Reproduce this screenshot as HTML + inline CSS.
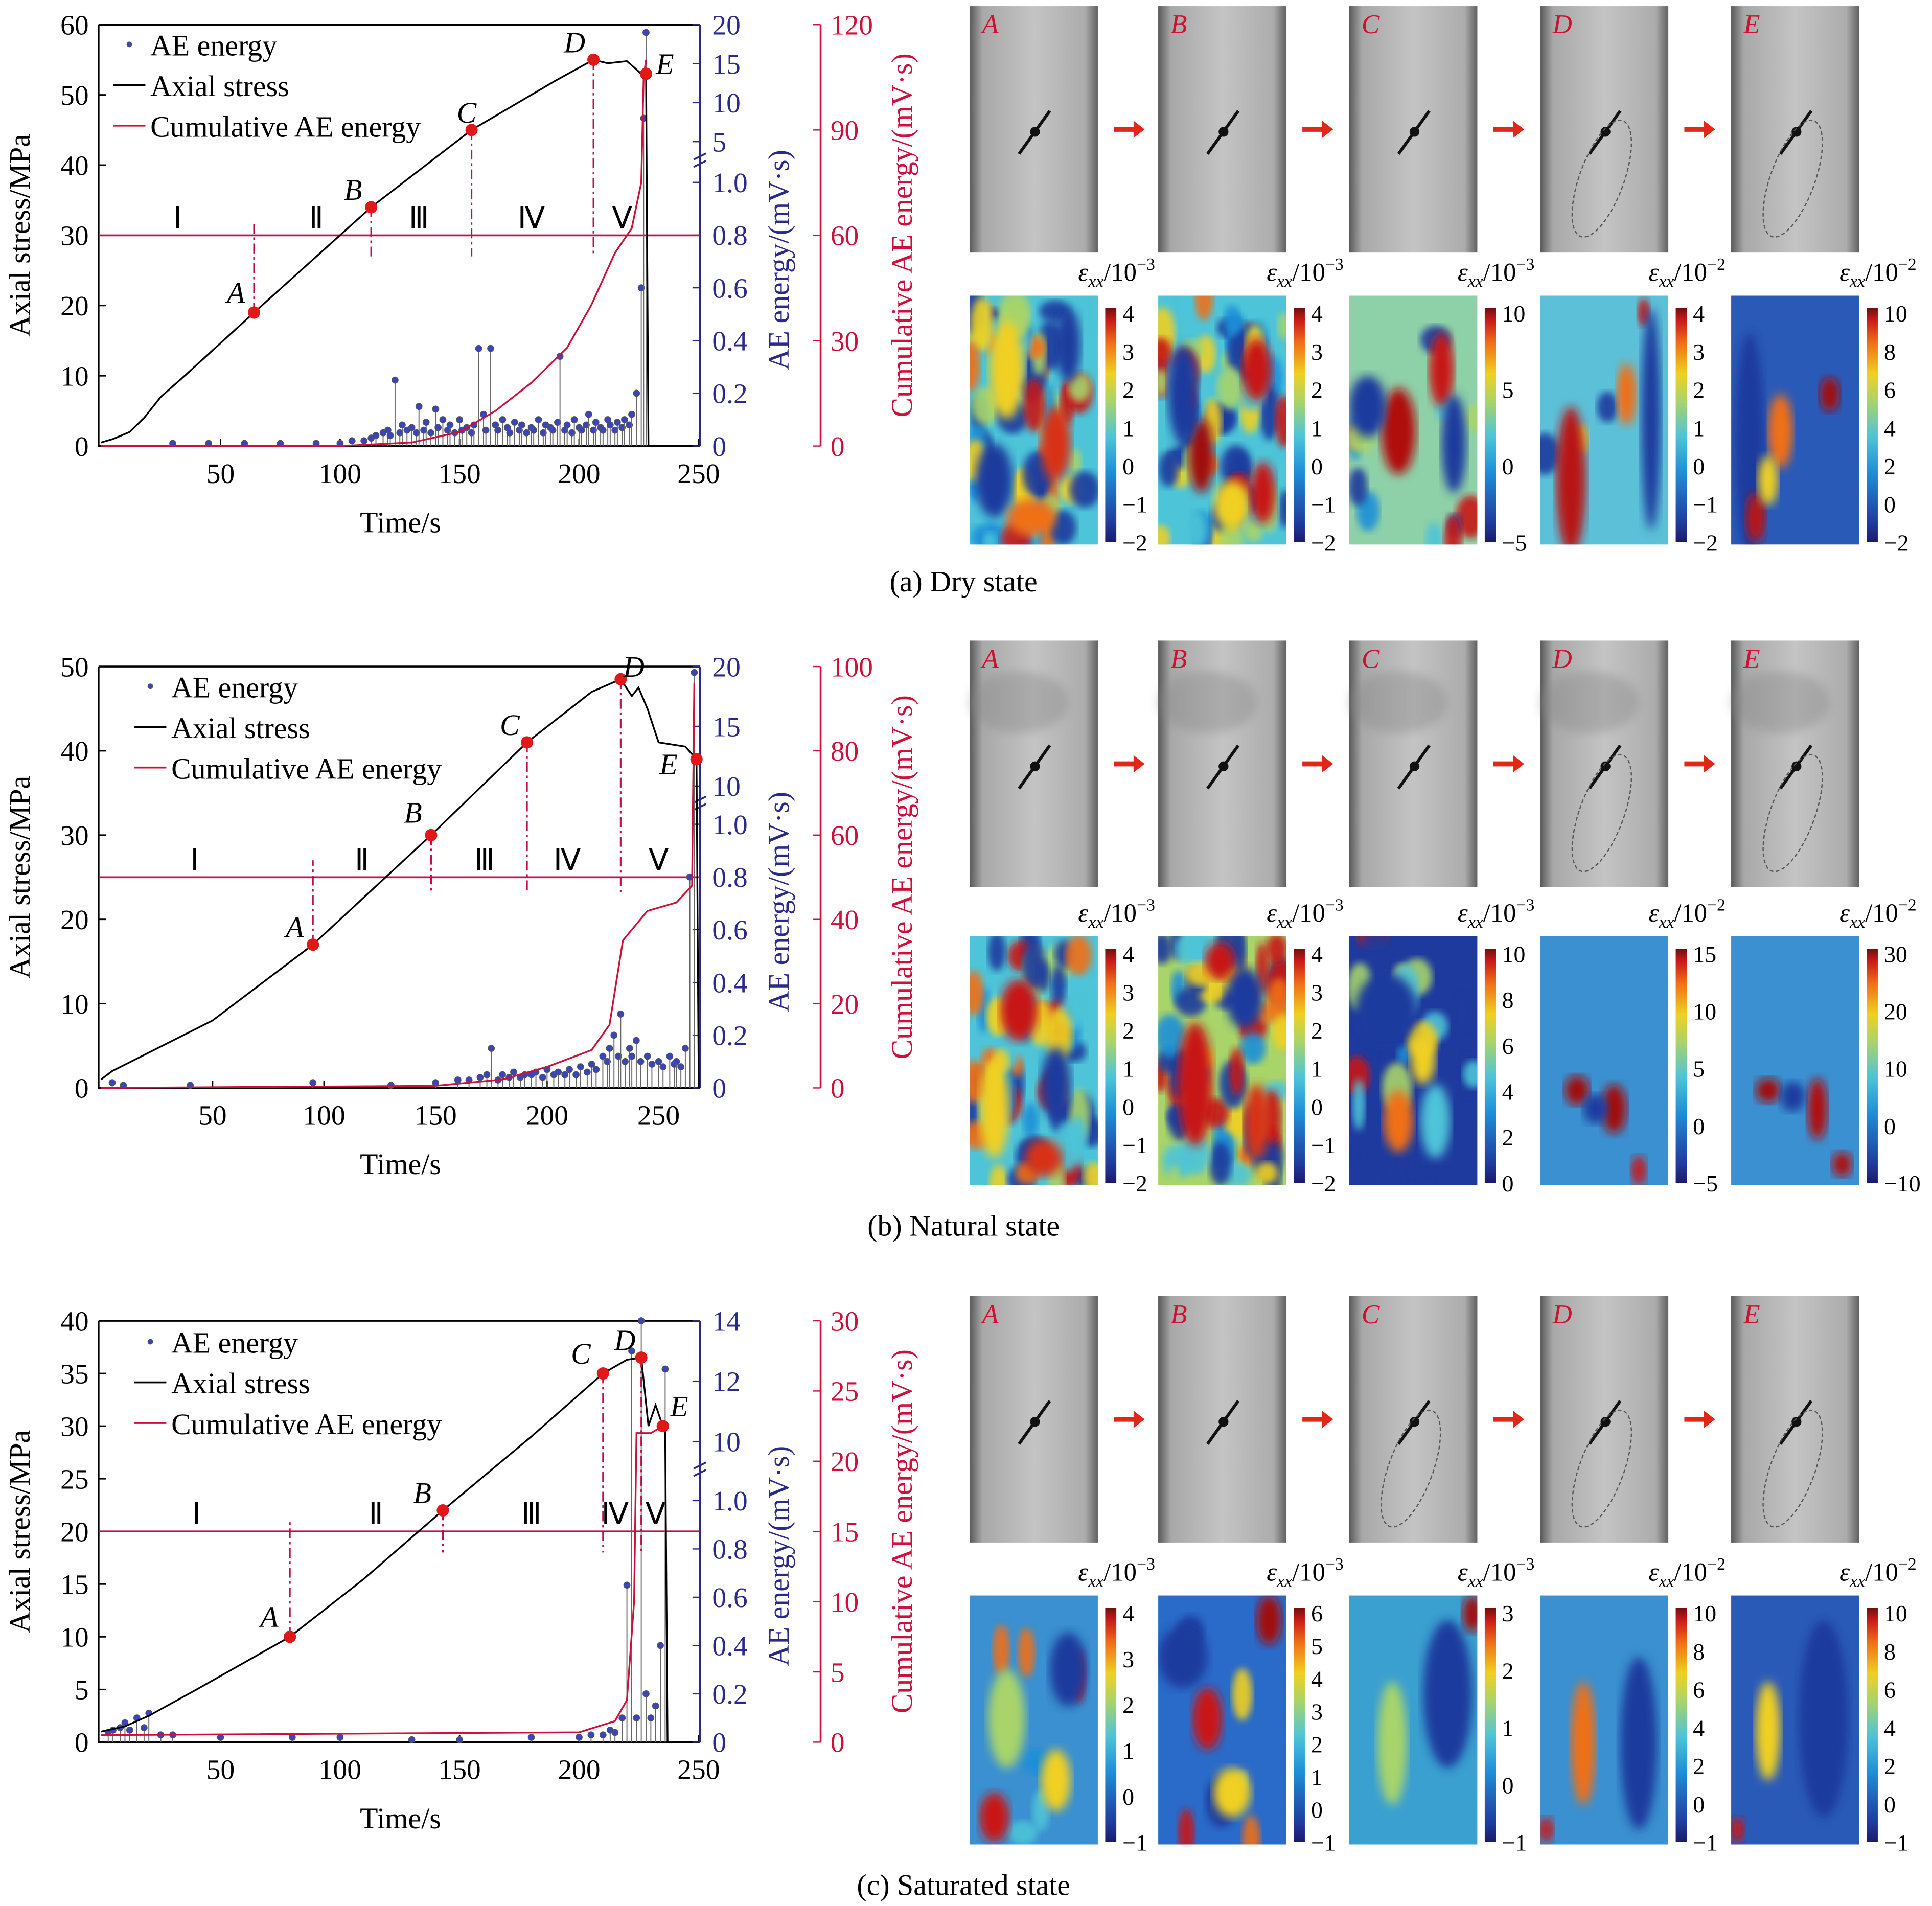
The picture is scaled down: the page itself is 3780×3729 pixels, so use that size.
<!DOCTYPE html>
<html><head><meta charset="utf-8">
<style>
html,body{margin:0;padding:0;background:#fff;}
svg{display:block;}
text{font-family:"Liberation Serif",serif;}
</style></head>
<body>
<svg id="fig" xmlns="http://www.w3.org/2000/svg" width="3780" height="3729" viewBox="0 0 1568 1547" preserveAspectRatio="none">
<defs>
<linearGradient id="jet" x1="0" y1="1" x2="0" y2="0">
<stop offset="0" stop-color="#1a1a6e"/><stop offset="0.08" stop-color="#1f3a9e"/><stop offset="0.3" stop-color="#1e8fd8"/><stop offset="0.45" stop-color="#4dc4d8"/><stop offset="0.6" stop-color="#a8d46a"/><stop offset="0.72" stop-color="#f0d020"/><stop offset="0.85" stop-color="#f07018"/><stop offset="0.95" stop-color="#c81818"/><stop offset="1" stop-color="#6e1010"/>
</linearGradient>
<linearGradient id="photo" x1="0" y1="0" x2="1" y2="0">
<stop offset="0" stop-color="#5a5a5a"/><stop offset="0.1" stop-color="#a8a8a8"/><stop offset="0.5" stop-color="#c4c4c4"/><stop offset="0.9" stop-color="#acacac"/><stop offset="1" stop-color="#606060"/>
</linearGradient>
<filter id="blur4"><feGaussianBlur stdDeviation="4"/></filter>
<filter id="blur3"><feGaussianBlur stdDeviation="3"/></filter>
</defs>
<g id="charts"></g>
<g id="images"></g>
</svg>
<script>
// ---------- Panel (a) data ----------
const aStressT=[0,5,12,18,25,35,64,113,155,190,206,212,220,226,228,229];
const aStressV=[0.5,1,2,4,7,10,19,34,45,52,55,54.5,54.8,53,53,0];
const aCumT=[0,100,130,150,165,180,195,205,215,222,226,227,228];
const aCumV=[0,0,1,4,10,18,28,40,55,62,75,105,110];
const aAeT=[30,45,60,75,90,100,105,110,113,115,118,120,121,123,125,126,128,130,132,133,135,136,138,140,141,143,145,146,148,150,151,153,155,156,158,160,161,163,165,166,168,170,171,173,175,176,178,180,181,183,185,186,188,189,191,192,194,195,197,198,200,201,203,204,206,207,209,210,212,213,215,216,218,219,221,222,224,226,227,228];
const aAeV=[0.01,0.01,0.01,0.01,0.01,0.01,0.02,0.02,0.03,0.04,0.05,0.06,0.04,0.25,0.05,0.08,0.06,0.07,0.05,0.15,0.06,0.09,0.05,0.14,0.07,0.1,0.06,0.08,0.05,0.1,0.06,0.07,0.05,0.08,0.37,0.12,0.06,0.37,0.08,0.06,0.1,0.07,0.05,0.09,0.06,0.08,0.05,0.07,0.06,0.1,0.05,0.08,0.07,0.06,0.09,0.34,0.06,0.08,0.05,0.1,0.07,0.06,0.08,0.12,0.06,0.09,0.07,0.06,0.1,0.08,0.06,0.09,0.07,0.1,0.08,0.12,0.2,0.6,8,19];
const aPtT=[64,113,155,206,228];
const aPtV=[19,34,45,55,53];
const aStageT=[32,90,133,180,218];
// ---------- Panel (b) data ----------
const bStressT=[0,5,20,50,95,148,191,220,233,238,241,245,250,262,267,268];
const bStressV=[1,2,4,8,17,30,41,47,48.5,46.5,47.5,45,41,40.5,39,0];
const bCumT=[0,150,180,200,220,228,231,234,245,258,265,266];
const bCumV=[0,0.5,2,5,9,15,25,35,42,44,48,96];
const bAeT=[5,10,40,95,130,150,160,165,170,173,175,178,180,183,185,188,190,193,195,198,200,203,205,208,210,213,215,218,220,222,225,227,228,230,232,233,235,237,238,240,242,245,247,250,252,255,257,258,260,262,264,266];
const bAeV=[0.02,0.01,0.01,0.02,0.01,0.02,0.03,0.03,0.04,0.05,0.15,0.03,0.05,0.04,0.06,0.04,0.05,0.05,0.06,0.04,0.07,0.05,0.06,0.05,0.07,0.05,0.08,0.06,0.09,0.07,0.12,0.1,0.15,0.2,0.12,0.28,0.1,0.15,0.12,0.18,0.1,0.12,0.09,0.1,0.08,0.12,0.09,0.1,0.08,0.15,0.8,19.5];
const bPtT=[95,148,191,233,267];
const bPtV=[17,30,41,48.5,39];
const bStageT=[42,117,172,209,250];
// ---------- Panel (c) data ----------
const cStressT=[0,10,20,40,79,110,143,180,210,220,226,229,232,235,236,237];
const cStressV=[1,1.5,2.5,5,10,15.5,22,29,35,36.3,36.5,30,32,30,30,0];
const cCumT=[0,200,215,220,223,224,230,235];
const cCumV=[0.5,0.7,1.5,3,10,22,22,22.5];
const cAeT=[3,5,8,10,12,15,18,20,25,30,50,80,100,130,150,180,200,205,210,213,215,218,220,222,224,226,228,230,232,234,236];
const cAeV=[0.04,0.05,0.06,0.08,0.05,0.1,0.06,0.12,0.03,0.03,0.02,0.02,0.02,0.01,0.01,0.02,0.02,0.03,0.03,0.05,0.04,0.1,0.65,13,0.1,14,0.2,0.1,0.15,0.4,12.4];
const cPtT=[79,143,210,226,235];
const cPtV=[10,22,35,36.5,30];
const cStageT=[40,115,180,215,232];

const ptLetters=['A','B','C','D','E'];
const stageLabels=['Ⅰ','Ⅱ','Ⅲ','Ⅳ','Ⅴ'];
const NS='http://www.w3.org/2000/svg';
function mk(tag,attrs,parent,txt){const e=document.createElementNS(NS,tag);for(const k in attrs)e.setAttribute(k,attrs[k]);if(txt!==undefined)e.textContent=txt;parent.appendChild(e);return e;}

const panels=[
 {id:'a',T:aStressT,V:aStressV,cT:aCumT,cV:aCumV,eT:aAeT,eV:aAeV,pT:aPtT,pV:aPtV,sT:aStageT,
  x0:82,xs:1.94,yBot:362,yTop:20,sMax:60,sStep:10,line:30,
  yOne:148,upLo:5,upLoY:115,upHi:20,upHiY:20,upTicks:[5,10,15,20],
  cMax:120,cStep:30,legY:39,legX:122,xTicks:[50,100,150,200,250],
  ptOff:[[-22,-8],[-22,-6],[-12,-6],[-24,-6],[8,0]],vlo:[32,27,27,27,null]},
 {id:'b',T:bStressT,V:bStressV,cT:bCumT,cV:bCumV,eT:bAeT,eV:bAeV,pT:bPtT,pV:bPtV,sT:bStageT,
  x0:82,xs:1.81,yBot:883,yTop:541,sMax:50,sStep:10,line:25,
  yOne:669,upLo:10,upLoY:638,upHi:20,upHiY:541,upTicks:[10,15,20],
  cMax:100,cStep:20,legY:560,legX:139,xTicks:[50,100,150,200,250],
  ptOff:[[-22,-6],[-22,-10],[-22,-6],[2,-2],[-30,12]],vlo:[27,23,23,23,null]},
 {id:'c',T:cStressT,V:cStressV,cT:cCumT,cV:cCumV,eT:cAeT,eV:cAeV,pT:cPtT,pV:cPtV,sT:cStageT,
  x0:82,xs:1.94,yBot:1414,yTop:1072,sMax:40,sStep:5,line:20,
  yOne:1218,upLo:10,upLoY:1170,upHi:14,upHiY:1072,upTicks:[10,12,14],
  cMax:30,cStep:5,legY:1092,legX:139,xTicks:[50,100,150,200,250],
  ptOff:[[-24,-8],[-24,-6],[-26,-8],[-22,-6],[6,-8]],vlo:[21,18,18,18,null]}
];
const charts=document.getElementById('charts');
panels.forEach(p=>{
 const g=mk('g',{},charts);
 
 
 const X=t=>p.x0+t*p.xs;
 const Y=v=>p.yBot-v*(p.yBot-p.yTop)/p.sMax;
 const YE=v=>v<=1?p.yBot-v*(p.yBot-p.yOne):p.upLoY-(v-p.upLo)*(p.upLoY-p.upHiY)/(p.upHi-p.upLo);
 const YC=v=>p.yBot-v*(p.yBot-p.yTop)/p.cMax;
 const L=80,R=568;
 const fr=mk('path',{d:`M${L},${p.yTop}H${R}M${L},${p.yTop}V${p.yBot}H${R}`,stroke:'#000','stroke-width':1.5,fill:'none'},g);
 
 for(let v=0;v<=p.sMax;v+=p.sStep){
  mk('line',{x1:L,x2:L+6,y1:Y(v),y2:Y(v),stroke:'#000','stroke-width':1.2},g);
  const t=mk('text',{x:L-8,y:Y(v)+8,'text-anchor':'end','font-size':23},g,String(v));
  
 }
 p.xTicks.forEach(v=>{
  mk('line',{x1:X(v),x2:X(v),y1:p.yBot,y2:p.yBot-6,stroke:'#000','stroke-width':1.2},g);
  const t=mk('text',{x:X(v),y:p.yBot+30,'text-anchor':'middle','font-size':23},g,String(v));
  
 });
 const xt=mk('text',{x:325,y:p.yBot+70,'text-anchor':'middle','font-size':24},g,'Time/s');
 
 const yt=mk('text',{x:0,y:0,'text-anchor':'middle','font-size':24,transform:`translate(24,${(p.yTop+p.yBot)/2}) rotate(-90)`},g,'Axial stress/MPa');
 
 const blue='#2a2a8c';
 mk('line',{x1:R,x2:R,y1:p.yTop,y2:p.yBot,stroke:blue,'stroke-width':1.5},g);
 [0,0.2,0.4,0.6,0.8,1.0].forEach(v=>{
  mk('line',{x1:R,x2:R-6,y1:YE(v),y2:YE(v),stroke:blue},g);
  const t=mk('text',{x:R+10,y:YE(v)+8,'font-size':23,fill:blue},g,v===0?'0':v.toFixed(1));
  
 });
 p.upTicks.forEach(v=>{
  mk('line',{x1:R,x2:R-6,y1:YE(v),y2:YE(v),stroke:blue},g);
  const t=mk('text',{x:R+10,y:YE(v)+8,'font-size':23,fill:blue},g,String(v));
  
 });
 const by=(p.yOne+p.upLoY)/2;
 mk('path',{d:`M${R-5},${by-2}l10,-5M${R-5},${by+4}l10,-5`,stroke:blue,'stroke-width':1.5},g);
 const at=mk('text',{x:0,y:0,'text-anchor':'middle','font-size':24,fill:blue,transform:`translate(640,${(p.yTop+p.yBot)/2+20}) rotate(-90)`},g,'AE energy/(mV·s)');
 
 const red='#d0103a';
 mk('line',{x1:666,x2:666,y1:p.yTop,y2:p.yBot,stroke:red,'stroke-width':1.5},g);
 for(let v=0;v<=p.cMax;v+=p.cStep){
  mk('line',{x1:666,x2:660,y1:YC(v),y2:YC(v),stroke:red},g);
  const t=mk('text',{x:674,y:YC(v)+8,'font-size':23,fill:red},g,String(v));
  
 }
 const ct=mk('text',{x:0,y:0,'text-anchor':'middle','font-size':24,fill:red,transform:`translate(740,${(p.yTop+p.yBot)/2}) rotate(-90)`},g,'Cumulative AE energy/(mV·s)');
 
 mk('line',{x1:L,x2:R,y1:Y(p.line),y2:Y(p.line),stroke:'#c0104a','stroke-width':1.5},g);
 p.sT.forEach((t,i)=>{
  const s=mk('text',{x:X(t),y:Y(p.line)-6,'text-anchor':'middle','font-size':24},g,stageLabels[i]);
  
 });
 p.eT.forEach((t,i)=>{
  const st=mk('line',{x1:X(t),x2:X(t),y1:p.yBot,y2:YE(p.eV[i]),stroke:'#666','stroke-width':0.8},g);
  
  const c=mk('circle',{cx:X(t),cy:YE(p.eV[i]),r:2.6,fill:'#3a46b8',stroke:'#555','stroke-width':0.5},g);
  
 });
 const cl=mk('polyline',{points:p.cT.map((t,i)=>X(t)+','+YC(p.cV[i])).join(' '),fill:'none',stroke:red,'stroke-width':1.4},g);
 
 const sl=mk('polyline',{points:p.T.map((t,i)=>X(t)+','+Y(p.V[i])).join(' '),fill:'none',stroke:'#000','stroke-width':1.4},g);
 
 p.pT.forEach((t,i)=>{
  if(p.vlo[i]!==null){
   mk('line',{x1:X(t),x2:X(t),y1:Y(p.pV[i]),y2:Y(p.vlo[i]),stroke:'#c0104a','stroke-width':1.3,'stroke-dasharray':'8,3,2,3'},g);
  }
  const c=mk('circle',{cx:X(t),cy:Y(p.pV[i]),r:5,fill:'#e01818'},g);
  
  const lt=mk('text',{x:X(t)+p.ptOff[i][0],y:Y(p.pV[i])+p.ptOff[i][1],'font-size':24,'font-style':'italic'},g,ptLetters[i]);
  
 });
 const lg=mk('g',{},g);
 
 const lx=p.legX;
 mk('circle',{cx:lx-17,cy:p.legY-3,r:2,fill:'#3a46b8',stroke:'#555','stroke-width':0.5},lg);
 mk('text',{x:lx,y:p.legY+6,'font-size':24},lg,'AE energy');
 mk('line',{x1:lx-30,x2:lx-4,y1:p.legY+30,y2:p.legY+30,stroke:'#000','stroke-width':1.5},lg);
 mk('text',{x:lx,y:p.legY+39,'font-size':24},lg,'Axial stress');
 mk('line',{x1:lx-30,x2:lx-4,y1:p.legY+63,y2:p.legY+63,stroke:red,'stroke-width':1.5},lg);
 mk('text',{x:lx,y:p.legY+72,'font-size':24},lg,'Cumulative AE energy');
});

// ---------- right-side images ----------
const colX=[787,940,1095,1250,1405];
const rows=[
 {pY:5,hY:240,cap:'(a) Dry state',capY:480,
  exps:['−3','−3','−3','−2','−2'],
  ticks:[['4','3','2','1','0','−1','−2'],['4','3','2','1','0','−1','−2'],['10','5','0','−5'],['4','3','2','1','0','−1','−2'],['10','8','6','4','2','0','−2']]},
 {pY:520,hY:760,cap:'(b) Natural state',capY:1003,
  exps:['−3','−3','−3','−2','−2'],
  ticks:[['4','3','2','1','0','−1','−2'],['4','3','2','1','0','−1','−2'],['10','8','6','4','2','0'],['15','10','5','0','−5'],['30','20','10','0','−10']]},
 {pY:1052,hY:1295,cap:'(c) Saturated state',capY:1538,
  exps:['−3','−3','−3','−2','−2'],
  ticks:[['4','3','2','1','0','−1'],['6','5','4','3','2','1','0','−1'],['3','2','1','0','−1'],['10','8','6','4','2','0','−1'],['10','8','6','4','2','0','−1']]}
];
const blobs=[
 [[[30,60,14,40,'#f0d020'],[70,120,12,30,'#d83018'],[20,150,15,30,'#1f3a9e'],[80,40,10,30,'#1f3a9e'],[50,180,20,15,'#f07018']],
  [[35,130,10,30,'#a01010'],[80,60,12,25,'#c81818'],[20,80,12,40,'#1f3a9e'],[60,170,15,20,'#f0d020'],[85,160,10,25,'#c81818']],
  [[40,110,14,35,'#b01010'],[75,60,10,30,'#c81818'],[15,90,15,25,'#1f3a9e'],[85,120,10,40,'#1f3a9e']],
  [[25,150,12,60,'#b81818'],[70,80,8,25,'#f07018'],[90,100,8,90,'#1f3a9e']],
  [[40,110,10,30,'#f07018'],[80,80,8,14,'#a01010'],[15,120,12,90,'#1f3a9e'],[20,180,8,20,'#b81818'],[30,150,8,20,'#f0d020']]],
 [[[40,60,15,25,'#c81818'],[20,140,12,40,'#f0d020'],[70,120,12,30,'#1f3a9e'],[60,180,15,15,'#d83018']],
  [[30,120,14,50,'#c81818'],[70,50,15,25,'#1f3a9e'],[80,150,10,30,'#d83018'],[50,20,12,15,'#c81818']],
  [[40,150,12,25,'#f07018'],[60,100,10,20,'#f0d020'],[30,60,25,30,'#1f3a9e'],[70,150,12,30,'#4dc4d8']],
  [[30,125,10,12,'#a01010'],[60,140,10,20,'#a01010'],[45,140,10,12,'#1f3a9e'],[80,190,6,12,'#c81818']],
  [[30,125,10,10,'#a01010'],[70,140,8,25,'#b01010'],[90,185,8,10,'#b01010'],[50,130,10,12,'#1f3a9e']]],
 [[[30,100,15,40,'#a8d46a'],[80,60,15,30,'#1f3a9e'],[20,180,12,20,'#c81818'],[70,150,12,25,'#f0d020']],
  [[40,100,12,25,'#c81818'],[90,20,10,20,'#a01010'],[20,50,20,25,'#1f3a9e'],[60,160,15,20,'#f0d020']],
  [[35,120,12,50,'#a8d46a'],[100,15,8,15,'#a01010'],[80,80,20,60,'#1f3a9e']],
  [[35,120,10,50,'#f07018'],[80,120,15,70,'#1f3a9e'],[5,190,6,10,'#c81818']],
  [[30,110,10,40,'#f0d020'],[75,100,20,80,'#1f3a9e'],[5,190,6,10,'#c81818']]]
];
const texture=[[60,60,12,4,0],[55,60,20,0,0],[6,6,0,0,0]];
const palette=['#1f3a9e','#1e8fd8','#4dc4d8','#a8d46a','#f0d020','#f07018','#c81818','#1f3a9e'];
const bg=[['#4dc4d8','#4dc4d8','#8ed0a8','#5cc0d8','#2a5ab8'],['#4dc4d8','#a8d46a','#1f3a9e','#3a90d0','#3a90d0'],['#3a90d0','#2a6ac8','#3aa0d0','#3a90d0','#2a5ab8']];
function hsh(n){const s=Math.sin(n*12.9898)*43758.5453;return s-Math.floor(s);}
const imgs=document.getElementById('images');
rows.forEach((r,ri)=>{
 colX.forEach((x,ci)=>{
  const ph=mk('g',{},imgs);
  
  mk('rect',{x:x,y:r.pY,width:104,height:200,fill:'url(#photo)'},ph);
  if(ri===1){mk('ellipse',{cx:x+40,cy:r.pY+50,rx:40,ry:25,fill:'#888',opacity:0.4,filter:'url(#blur4)'},ph);}
  mk('line',{x1:x+40,y1:r.pY+120,x2:x+65,y2:r.pY+85,stroke:'#111','stroke-width':2.5},ph);
  mk('circle',{cx:x+53,cy:r.pY+102,r:4,fill:'#111'},ph);
  if(ci>=2&&!(ri===1&&ci===2)&&!(ri===0&&ci===2)){mk('ellipse',{cx:x+50,cy:r.pY+140,rx:18,ry:50,fill:'none',stroke:'#555','stroke-dasharray':'3,2','transform':`rotate(20 ${x+50} ${r.pY+140})`},ph);}
  const lt=mk('text',{x:x+10,y:r.pY+22,'font-size':22,'font-style':'italic',fill:'#d01030'},ph,ptLetters[ci]);
  
  if(ci<4){
   const ar=mk('path',{d:`M${x+117},${r.pY+98}h16v-5l9,7l-9,7v-5h-16z`,fill:'#e02818'},imgs);
   
  }
  const hm=mk('g',{},imgs);
  
  const clipId=`cl${ri}${ci}`;
  const cp=mk('clipPath',{id:clipId},hm);mk('rect',{x:x,y:r.hY,width:104,height:202},cp);
  const hg=mk('g',{'clip-path':`url(#${clipId})`},hm);
  mk('rect',{x:x,y:r.hY,width:104,height:202,fill:bg[ri][ci]},hg);
  const nt=texture[ri][ci];
  for(let k=0;k<nt;k++){
   const s=ri*1000+ci*100+k;
   mk('ellipse',{cx:x+hsh(s+0.1)*104,cy:r.hY+hsh(s+0.2)*202,rx:5+hsh(s+0.3)*8,ry:8+hsh(s+0.4)*14,fill:palette[Math.floor(hsh(s+0.5)*palette.length)],filter:'url(#blur3)',opacity:0.9},hg);
  }
  blobs[ri][ci].forEach(b=>{mk('ellipse',{cx:x+b[0],cy:r.hY+b[1],rx:b[2],ry:b[3],fill:b[4],filter:'url(#blur4)'},hg);});
  const cb=mk('rect',{x:x+110,y:r.hY+10,width:9,height:190,fill:'url(#jet)'},imgs);
  
  const tk=r.ticks[ci],n=tk.length;
  tk.forEach((s,k)=>{
   const ty=r.hY+14+k*(186/(n-1));
   const t=mk('text',{x:x+124,y:ty+7,'font-size':19},imgs,s);
   
  });
  const u=mk('text',{x:x+88,y:r.hY-12,'font-size':21},imgs);
  
  mk('tspan',{'font-style':'italic'},u,'ε');
  mk('tspan',{'font-style':'italic','font-size':14,dy:5},u,'xx');
  mk('tspan',{dy:-5},u,'/10');
  mk('tspan',{'font-size':14,dy:-9},u,r.exps[ci]);
 });
 const cap=mk('text',{x:782,y:r.capY,'text-anchor':'middle','font-size':24},imgs,r.cap);
 
});
</script>
</body></html>
